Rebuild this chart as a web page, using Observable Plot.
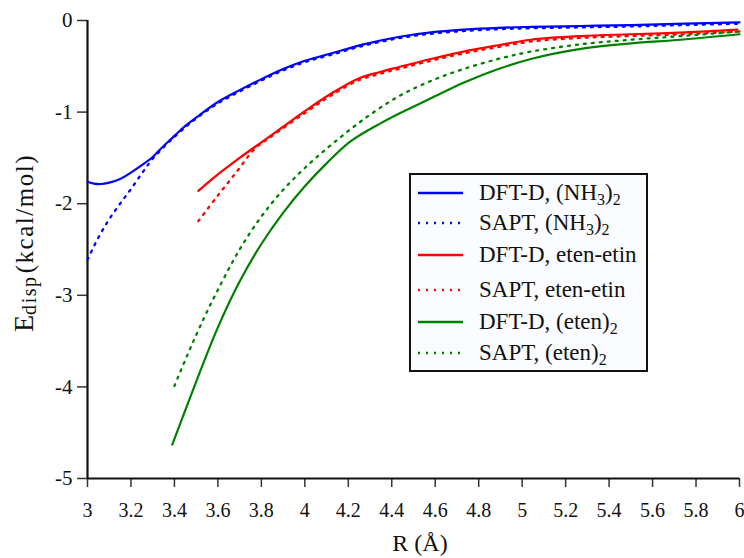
<!DOCTYPE html>
<html><head><meta charset="utf-8">
<script src="https://cdn.jsdelivr.net/npm/d3@7"></script>
<script src="https://cdn.jsdelivr.net/npm/@observablehq/plot@0.6"></script>
<style>
body{margin:0;background:#fff;}
#wrap{position:relative;width:744px;height:558px;font-family:"Liberation Serif",serif;}
#wrap svg text, #wrap svg tspan{font-family:"Liberation Serif",serif !important;}
#legend{position:absolute;left:409px;top:173px;width:239px;height:199px;box-sizing:border-box;border:2.5px solid #111;background:#fbfcff;font-family:"Liberation Serif",serif;}
.row{position:absolute;left:7px;height:30px;display:flex;align-items:center;font-size:23px;color:#111;white-space:nowrap;font-family:"Liberation Serif",serif;}
.row svg{margin-right:16px;}
.row sub{font-size:16px;vertical-align:-5px;line-height:0;}
</style></head><body><div id="wrap"></div>
<script>
const xTicks = [3, 3.2, 3.4, 3.6, 3.8, 4, 4.2, 4.4, 4.6, 4.8, 5, 5.2, 5.4, 5.6, 5.8, 6];
const yTicks = [-5, -4, -3, -2, -1, 0];

const seriesNames = ["DFT-D, (NH<sub>3</sub>)<sub>2</sub>", "SAPT, (NH<sub>3</sub>)<sub>2</sub>",
  "DFT-D, eten-etin", "SAPT, eten-etin", "DFT-D, (eten)<sub>2</sub>", "SAPT, (eten)<sub>2</sub>"];
const seriesColors = ["#0000ff", "#0000ff", "#ff0000", "#ff0000", "#008000", "#008000"];
const seriesDotted = [false, true, false, true, false, true];

const nh3DftR = [3.00,3.03,3.06,3.10,3.15,3.20,3.25,3.30,3.35,3.40,3.45,3.50,3.60,3.70,3.80,3.90,4.00,4.12,4.27,4.43,4.58,4.73,4.89,5.04,5.27,5.50,5.75,6.00];
const nh3DftE = [-1.76,-1.78,-1.785,-1.77,-1.73,-1.66,-1.58,-1.49,-1.37,-1.26,-1.15,-1.06,-0.89,-0.76,-0.64,-0.53,-0.44,-0.36,-0.26,-0.18,-0.13,-0.10,-0.08,-0.07,-0.06,-0.05,-0.035,-0.02];

const nh3SaptR = [3.00,3.05,3.10,3.15,3.20,3.25,3.30,3.40,3.50,3.60,3.70,3.80,3.90,4.00,4.12,4.27,4.43,4.58,4.73,4.89,5.04,5.27,5.50,5.75,6.00];
const nh3SaptE = [-2.61,-2.37,-2.17,-2.00,-1.84,-1.67,-1.51,-1.27,-1.07,-0.905,-0.775,-0.655,-0.545,-0.455,-0.375,-0.275,-0.195,-0.145,-0.115,-0.095,-0.085,-0.075,-0.065,-0.05,-0.035];

const etinDftR = [3.51,3.60,3.70,3.80,3.90,4.00,4.12,4.25,4.35,4.43,4.58,4.73,4.89,5.04,5.27,5.50,5.75,5.99];
const etinDftE = [-1.86,-1.68,-1.50,-1.33,-1.16,-0.99,-0.80,-0.63,-0.56,-0.51,-0.42,-0.34,-0.27,-0.21,-0.17,-0.15,-0.13,-0.10];

const etinSaptR = [3.51,3.60,3.69,3.77,3.85,4.00,4.12,4.25,4.35,4.43,4.58,4.73,4.89,5.04,5.27,5.50,5.75,6.00];
const etinSaptE = [-2.19,-1.91,-1.64,-1.40,-1.26,-1.01,-0.82,-0.65,-0.58,-0.53,-0.44,-0.36,-0.29,-0.23,-0.19,-0.17,-0.15,-0.12];

const etenDftR = [3.39,3.52,3.60,3.70,3.80,3.90,4.00,4.10,4.21,4.35,4.43,4.58,4.73,4.89,5.04,5.27,5.50,5.73,6.00];
const etenDftE = [-4.63,-3.82,-3.35,-2.85,-2.44,-2.10,-1.81,-1.56,-1.32,-1.12,-1.02,-0.85,-0.68,-0.53,-0.42,-0.31,-0.25,-0.21,-0.15];

const etenSaptR = [3.40,3.46,3.52,3.60,3.70,3.80,3.90,4.00,4.12,4.27,4.43,4.58,4.73,4.89,5.04,5.27,5.50,5.73,6.00];
const etenSaptE = [-3.99,-3.65,-3.33,-2.94,-2.50,-2.14,-1.85,-1.61,-1.36,-1.08,-0.83,-0.66,-0.53,-0.42,-0.34,-0.26,-0.21,-0.17,-0.12];

const seriesR = [nh3DftR, nh3SaptR, etinDftR, etinSaptR, etenDftR, etenSaptR];
const seriesE = [nh3DftE, nh3SaptE, etinDftE, etinSaptE, etenDftE, etenSaptE];

const lineMarks = seriesR.map((rs, i) => {
  const data = rs.map((r, j) => ({R: r, E: seriesE[i][j]}));
  return Plot.line(data, {
    x: "R", y: "E", stroke: seriesColors[i],
    strokeWidth: seriesDotted[i] ? 2.3 : 2.2,
    strokeDasharray: seriesDotted[i] ? "2,6" : null,
    curve: "catmull-rom"
  });
});

const chart = Plot.plot({
  width: 744, height: 558,
  marginLeft: 87, marginTop: 20, marginRight: 5, marginBottom: 80,
  style: {fontFamily: "'Liberation Serif', serif", fontSize: "20px", color: "#111", background: "#fff"},
  x: {domain: [3, 6]},
  y: {domain: [-5, 0]},
  marks: [
    Plot.axisX({ticks: xTicks, tickSize: 9, tickPadding: 15, tickFormat: d => String(+d.toFixed(1)), label: null, stroke: "#333", strokeWidth: 1.5, fontSize: 20}),
    Plot.axisY({ticks: yTicks, tickSize: 10, tickPadding: 5, tickFormat: d => String(d), label: null, stroke: "#333", strokeWidth: 1.5, fontSize: 21}),
    Plot.ruleX([3], {stroke: "#111", strokeWidth: 2.2}),
    Plot.ruleY([-5], {stroke: "#111", strokeWidth: 2.2}),
    ...lineMarks
  ]
});

const wrap = document.getElementById("wrap");
wrap.appendChild(chart);

const svg = d3.select(chart);
const yt = svg.append("text")
  .attr("transform", "translate(33,332) rotate(-90)")
  .attr("text-anchor", "start")
  .attr("fill", "#111");
yt.append("tspan").attr("font-size", 28).text("E");
yt.append("tspan").attr("font-size", 20).attr("dy", 3).attr("textLength", 38).text("disp");
yt.append("tspan").attr("font-size", 25).attr("dy", -3).attr("dx", 2).attr("textLength", 118).text("(kcal/mol)");

svg.append("text")
  .attr("x", 420).attr("y", 551)
  .attr("text-anchor", "middle")
  .attr("font-size", 24)
  .attr("fill", "#111")
  .text("R (Å)");

// legend
const rowCenters = [20, 50, 82, 117, 149, 180];
const legend = document.createElement("div");
legend.id = "legend";
seriesNames.forEach((name, i) => {
  const row = document.createElement("div");
  row.className = "row";
  row.style.top = (rowCenters[i] - 2.5 - 15) + "px";
  const dash = seriesDotted[i] ? 'stroke-dasharray="2,6"' : "";
  row.innerHTML = `<svg width="45" height="10"><line x1="0" x2="45" y1="5" y2="5" stroke="${seriesColors[i]}" stroke-width="${seriesDotted[i] ? 2.3 : 2.4}" ${dash}/></svg><span>${name}</span>`;
  legend.appendChild(row);
});
wrap.appendChild(legend);
</script>
</body></html>
